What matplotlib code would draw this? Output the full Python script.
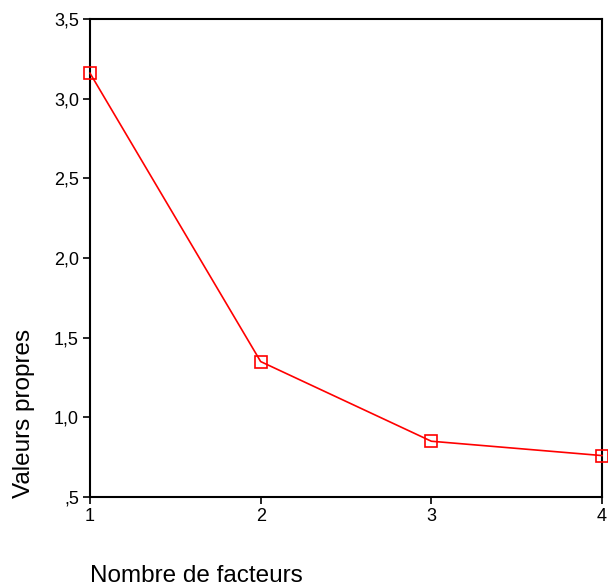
import matplotlib
matplotlib.use("Agg")
import matplotlib.pyplot as plt

factors = [1, 2, 3, 4]
eigenvalues = [3.16, 1.35, 0.85, 0.76]
ytick_vals = [0.5, 1.0, 1.5, 2.0, 2.5, 3.0, 3.5]
ytick_labels = [",5", "1,0", "1,5", "2,0", "2,5", "3,0", "3,5"]
xtick_labels = ["1", "2", "3", "4"]

plt.rcParams['font.family'] = ['Liberation Sans', 'DejaVu Sans']

fig = plt.figure(figsize=(6.08, 5.86), dpi=100)
ax = fig.add_axes([90/608, 1-497/586, (602-90)/608, (497-19)/586])
ax.plot(factors, eigenvalues, color='red', lw=1.2, marker='s', ms=8,
        mfc='none', mec='red', mew=1.2, clip_on=False, zorder=5)
ax.set_xlim(1, 4)
ax.set_ylim(0.5, 3.5)
ax.set_xticks(factors)
ax.set_xticklabels(xtick_labels)
ax.set_yticks(ytick_vals)
ax.set_yticklabels(ytick_labels)
for s in ax.spines.values():
    s.set_linewidth(1.5)
ax.tick_params(direction='out', length=5, width=1.2, labelsize=13, pad=3)
fig.text(90/608, 1-576/586, "Nombre de facteurs", fontsize=17.5, ha='left', va='center')
fig.text(24/608, 1-498/586, "Valeurs propres", fontsize=17.5, rotation=90, ha='center', va='bottom')
fig.savefig("out.png", dpi=100)
